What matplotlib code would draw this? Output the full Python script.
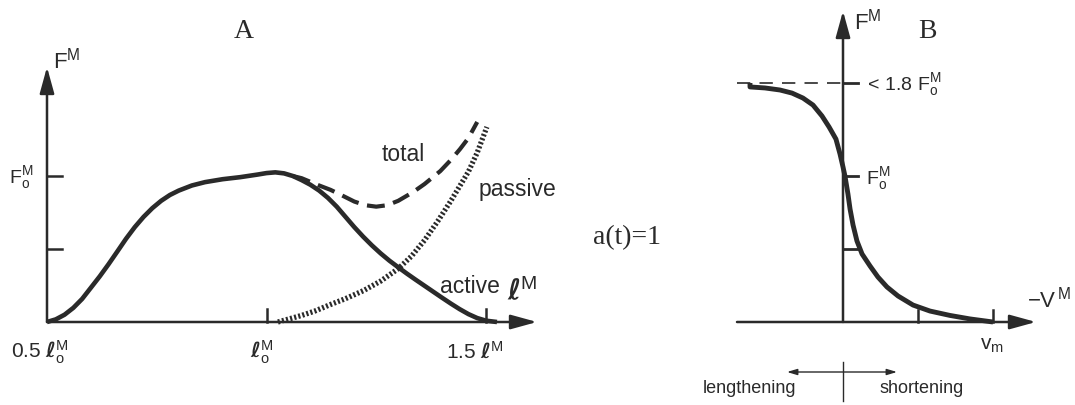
import matplotlib
matplotlib.use("Agg")
import matplotlib.pyplot as plt

plt.rcParams["mathtext.fontset"] = "custom"
plt.rcParams["mathtext.rm"] = "Liberation Sans"
plt.rcParams["mathtext.it"] = "Liberation Sans:italic"
plt.rcParams["mathtext.bf"] = "DejaVu Sans:bold:italic"
plt.rcParams["font.family"] = ["Liberation Sans", "DejaVu Sans"]

# ---- force-length relation (lengths in units of l_o^M, forces in F_o^M)
active_len = [0.50, 0.52, 0.54, 0.56, 0.58, 0.60, 0.62, 0.64, 0.66, 0.68,
              0.70, 0.72, 0.74, 0.76, 0.78, 0.80, 0.83, 0.86, 0.90, 0.94,
              0.98, 1.00, 1.02, 1.04, 1.06, 1.08, 1.10, 1.12, 1.14, 1.16,
              1.18, 1.20, 1.22, 1.24, 1.26, 1.28, 1.30, 1.32, 1.34, 1.36,
              1.38, 1.40, 1.42, 1.44, 1.46, 1.48, 1.50, 1.525]
active_force = [0.000, 0.018, 0.050, 0.097, 0.158, 0.235, 0.312, 0.395, 0.482, 0.570,
                0.650, 0.720, 0.780, 0.830, 0.870, 0.900, 0.935, 0.958, 0.978, 0.992,
                1.010, 1.020, 1.025, 1.018, 1.000, 0.972, 0.940, 0.900, 0.850, 0.790,
                0.720, 0.650, 0.585, 0.525, 0.470, 0.420, 0.375, 0.331, 0.289, 0.248,
                0.207, 0.166, 0.126, 0.088, 0.054, 0.027, 0.009, 0.000]

passive_len = [1.026, 1.05, 1.08, 1.11, 1.146, 1.18, 1.221, 1.26, 1.30, 1.33,
               1.36, 1.39, 1.42, 1.44, 1.46, 1.48, 1.502]
passive_force = [0.0, 0.02, 0.045, 0.075, 0.12, 0.16, 0.215, 0.28, 0.365, 0.45,
                 0.56, 0.69, 0.83, 0.93, 1.03, 1.16, 1.336]

total_len = [1.06, 1.08, 1.10, 1.12, 1.146, 1.17, 1.20, 1.225, 1.25, 1.275,
             1.30, 1.334, 1.36, 1.396, 1.42, 1.441, 1.46, 1.48]
total_force = [1.0, 0.985, 0.96, 0.935, 0.905, 0.87, 0.825, 0.80, 0.79, 0.80,
               0.83, 0.89, 0.945, 1.034, 1.11, 1.185, 1.26, 1.37]

length_ticks = [1.0, 1.5]
force_ticks_A = [0.5, 1.0]

# ---- force-velocity relation (velocity in units of v_m, shortening positive)
vel = [-0.62, -0.62, -0.52, -0.42, -0.34, -0.267, -0.20, -0.14, -0.093, -0.047,
       -0.02, 0.0, 0.013, 0.033, 0.047, 0.067, 0.093, 0.127, 0.18, 0.233,
       0.293, 0.367, 0.467, 0.58, 0.713, 0.847, 1.0]
vel_force = [1.637, 1.610, 1.603, 1.589, 1.568, 1.534, 1.486, 1.411, 1.336, 1.253,
             1.151, 1.062, 1.0, 0.877, 0.774, 0.664, 0.555, 0.466, 0.384, 0.308,
             0.240, 0.178, 0.116, 0.075, 0.045, 0.021, 0.0]
f_max = 1.637
vel_ticks = [0.5, 1.0]
force_ticks_B = [0.5, 1.0, f_max]

W, H = 1075, 406
fig = plt.figure(figsize=(W / 100, H / 100), dpi=100)
ink = "#2a2a2a"


def px_axes(x0, x1, y_top, y_bot):
    return fig.add_axes([x0 / W, 1 - y_bot / H, (x1 - x0) / W, (y_bot - y_top) / H])


def ftext(x, y, s, **kw):
    kw.setdefault("color", ink)
    kw.setdefault("ha", "center")
    kw.setdefault("va", "center")
    return fig.text(x / W, 1 - y / H, s, **kw)


def arrow(ax, p0, p1, lw=1.8, hl=0.8, hw=0.22, ms=20):
    ax.annotate("", xy=p1, xytext=p0, xycoords="data",
                arrowprops=dict(arrowstyle=f"-|>,head_length={hl},head_width={hw}",
                                mutation_scale=ms, lw=lw, color=ink,
                                shrinkA=0, shrinkB=0),
                annotation_clip=False)


# ================= panel A =================
axA = px_axes(47, 545, 40, 323)
axA.set_xlim(0.5, 0.5 + (545 - 47) / 439)
axA.set_ylim(0, (323 - 40) / 146)
axA.axis("off")

arrow(axA, (0.5, 0), (0.5, (323 - 68) / 146))
arrow(axA, (0.5, 0), (0.5 + (537 - 47) / 439, 0))
for f in force_ticks_A:
    axA.plot([0.5, 0.5 + 15 / 439], [f, f], color=ink, lw=1.8, clip_on=False)
for l in length_ticks:
    axA.plot([l, l], [0, 13 / 146], color=ink, lw=1.8, clip_on=False)

axA.plot(active_len, active_force, color=ink, lw=3.3, solid_capstyle="butt",
         solid_joinstyle="round", clip_on=False)
axA.plot(passive_len, passive_force, color=ink, lw=3.8,
         linestyle=(0, (0.4, 0.4)), clip_on=False)
axA.plot(total_len, total_force, color=ink, lw=3.0,
         linestyle=(0, (4.3, 2.1)), clip_on=False)

ftext(244, 31, "A", family="Liberation Serif", fontsize=20)
ftext(67, 61, r"$\mathrm{F}^{\mathrm{M}}$", fontsize=16)
ftext(21, 178, r"$\mathrm{F}_{\mathrm{o}}^{\mathrm{M}}$", fontsize=14)
ftext(40, 352, r"$0.5\ \mathbf{\ell}_{\mathrm{o}}^{\mathrm{M}}$", fontsize=15)
ftext(262, 352, r"$\mathbf{\ell}_{\mathrm{o}}^{\mathrm{M}}$", fontsize=15)
ftext(475, 352, r"$1.5\ \mathbf{\ell}^{\mathrm{M}}$", fontsize=15)
ftext(522, 292, r"$\mathbf{\ell}^{\mathrm{M}}$", fontsize=20)
ftext(403, 155, "total", fontsize=16.5)
ftext(517, 190, "passive", fontsize=16.5)
ftext(470, 287, "active", fontsize=16.5)

ftext(627, 238, "a(t)=1", family="Liberation Serif", fontsize=20)

# ================= panel B =================
axB = px_axes(737, 1075, 5, 323)
axB.set_xlim((737 - 843) / 150, (1075 - 843) / 150)
axB.set_ylim(0, (323 - 5) / 146)
axB.axis("off")

arrow(axB, (0, 0), (0, (323 - 12) / 146))
arrow(axB, ((737 - 843) / 150, 0), ((1036 - 843) / 150, 0))
axB.plot([(737 - 843) / 150, 0], [f_max, f_max], color=ink, lw=1.2,
         linestyle=(0, (8, 5.5)), clip_on=False)
for f in force_ticks_B:
    axB.plot([0, 15 / 150], [f, f], color=ink, lw=2.0, clip_on=False)
for v in vel_ticks:
    axB.plot([v, v], [0, 12 / 146], color=ink, lw=1.8, clip_on=False)

axB.plot(vel, vel_force, color=ink, lw=3.5, solid_capstyle="butt",
         solid_joinstyle="round", clip_on=False)

ftext(927, 31, "B", family="Liberation Serif", fontsize=20)
ftext(868, 22, r"$\mathrm{F}^{\mathrm{M}}$", fontsize=16)
ftext(903, 85, r"$<\,1.8\ \mathrm{F}_{\mathrm{o}}^{\mathrm{M}}$", fontsize=14)
ftext(878, 179, r"$\mathrm{F}_{\mathrm{o}}^{\mathrm{M}}$", fontsize=14)
ftext(1049, 300, r"$\mathrm{-V}^{\mathrm{\,M}}$", fontsize=16)
ftext(992, 346, r"$\mathrm{v}_{\mathrm{m}}$", fontsize=15)

# lengthening / shortening indicator
axB.annotate("", xy=((787 - 843) / 150, -50 / 146), xytext=((897 - 843) / 150, -50 / 146),
             arrowprops=dict(arrowstyle="<|-|>,head_length=0.5,head_width=0.15",
                             mutation_scale=12, lw=1.0, color=ink, shrinkA=0, shrinkB=0),
             annotation_clip=False)
axB.plot([0, 0], [-40 / 146, -79 / 146], color=ink, lw=1.0, clip_on=False)
ftext(749, 389, "lengthening", fontsize=13)
ftext(922, 389, "shortening", fontsize=13)

fig.savefig("out.png", dpi=100, facecolor="white")
